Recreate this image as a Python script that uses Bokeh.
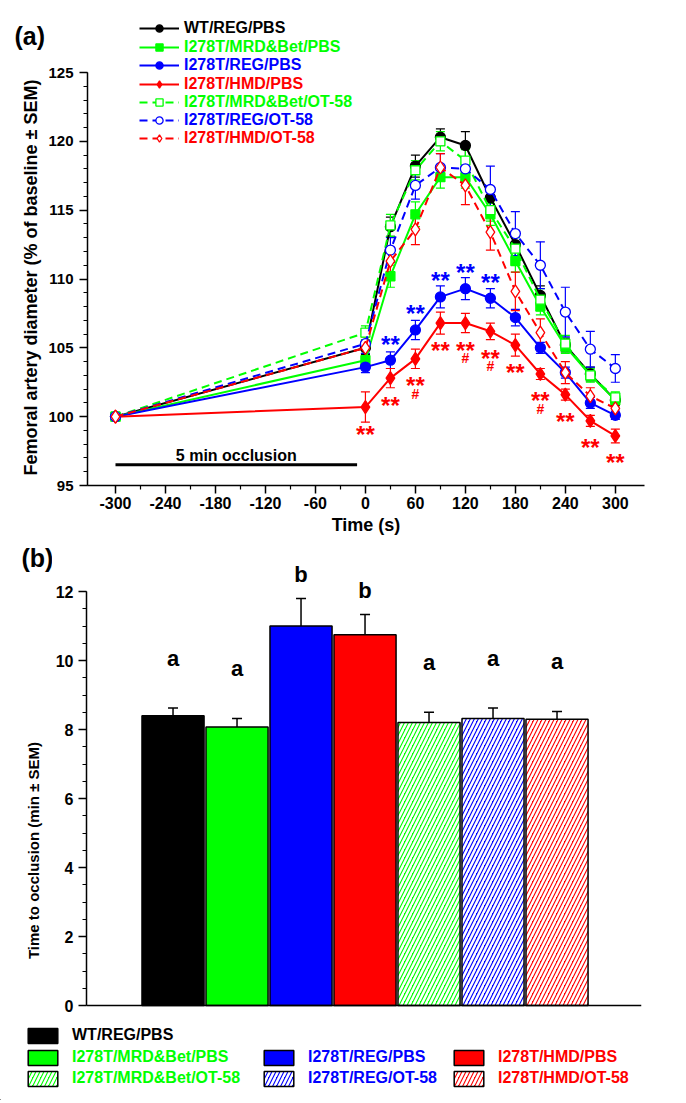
from bokeh.plotting import figure
from bokeh.models import ColumnDataSource, Whisker, TeeHead, Legend, LegendItem, Label, FixedTicker, Span
from bokeh.layouts import column, row
from bokeh.embed import file_html
from bokeh.resources import INLINE
from bokeh.core.properties import value

FONT = "Liberation Sans"

# ---------------- data: panel (a) ----------------
times = [-300, 0, 30, 60, 90, 120, 150, 180, 210, 240, 270, 300]

wt_reg_pbs = [100, 105.0, 113.8, 118.2, 120.3, 119.7, 115.9, 112.5, 108.8, 105.2, 103.1, 101.2]
mrd_pbs = [100, 104.1, 110.2, 114.7, 117.4, 117.4, 114.7, 111.3, 108.0, 105.1, 103.0, 101.2]
reg_pbs = [100, 103.6, 104.1, 106.3, 108.7, 109.3, 108.6, 107.2, 105.0, 103.2, 101.0, 100.1]
hmd_pbs = [100, 100.7, 102.8, 104.2, 106.8, 106.8, 106.2, 105.2, 103.1, 101.6, 99.7, 98.6]
mrd_ot58 = [100, 106.1, 113.9, 117.9, 120.0, 118.6, 115.0, 112.2, 108.5, 105.3, 103.0, 101.4]
reg_ot58 = [100, 105.3, 112.1, 116.8, 118.1, 118.0, 116.5, 113.3, 111.0, 107.6, 104.9, 103.5]
hmd_ot58 = [100, 105.0, 111.3, 113.6, 118.1, 116.8, 113.4, 109.1, 106.1, 103.2, 101.5, 100.6]

wt_reg_pbs_sem = [0, 0.5, 0.7, 0.8, 0.6, 1.0, 0.8, 0.8, 0.7, 0.5, 0.5, 0.4]
mrd_pbs_sem = [0, 0.5, 0.8, 0.9, 0.8, 0.8, 0.8, 0.8, 0.6, 0.5, 0.4, 0.3]
reg_pbs_sem = [0, 0.4, 0.6, 0.7, 0.8, 0.8, 0.7, 0.6, 0.4, 0.4, 0.4, 0.3]
hmd_pbs_sem = [0, 1.1, 0.7, 0.7, 0.8, 0.7, 0.6, 0.8, 0.4, 0.4, 0.4, 0.5]
mrd_ot58_sem = [0, 0.5, 0.8, 0.7, 0.7, 0.8, 0.8, 0.8, 0.8, 0.6, 0.5, 0.4]
reg_ot58_sem = [0, 0.7, 0.9, 1.0, 1.0, 0.8, 1.7, 1.6, 1.7, 1.8, 1.3, 1.0]
hmd_ot58_sem = [0, 0.8, 1.0, 1.1, 1.0, 1.4, 1.3, 1.4, 1.0, 0.8, 0.6, 0.5]

reg_pbs_sig = ["", "", "**", "**", "**", "**", "**", "", "", "", "", ""]
hmd_pbs_sig = ["", "**", "**", "**", "**", "**", "**", "**", "**", "**", "**", "**"]
hmd_pbs_hash = ["", "", "", "#", "", "#", "#", "", "#", "", "", ""]

occlusion = [-300, -10]
occlusion_text = "5 min occlusion"

x_ticks = [-300, -240, -180, -120, -60, 0, 60, 120, 180, 240, 300]
y_ticks_a = [95, 100, 105, 110, 115, 120, 125]

# ---------------- data: panel (b) ----------------
groups = ["WT/REG/PBS", "I278T/MRD&Bet/PBS", "I278T/REG/PBS", "I278T/HMD/PBS",
          "I278T/MRD&Bet/OT-58", "I278T/REG/OT-58", "I278T/HMD/OT-58"]
occl_mean = [8.4, 8.07, 11.0, 10.75, 8.2, 8.32, 8.3]
occl_sem = [0.22, 0.25, 0.8, 0.58, 0.3, 0.3, 0.22]
occl_letters = ["a", "a", "b", "b", "a", "a", "a"]
y_ticks_b = [0, 2, 4, 6, 8, 10, 12]

BLACK, GREEN, BLUE, RED = "#000000", "#00FF00", "#0000FF", "#FF0000"
group_colors = [BLACK, GREEN, BLUE, RED, GREEN, BLUE, RED]
group_hatched = [False, False, False, False, True, True, True]


def style_axis(ax, tick_size, label_size="16px"):
    ax.axis_line_width = 1.5
    ax.axis_line_color = "black"
    ax.major_tick_line_width = 1.5
    ax.minor_tick_line_width = 1.2
    ax.major_tick_in = 0
    ax.major_tick_out = 8
    ax.minor_tick_in = 0
    ax.minor_tick_out = 4
    ax.major_label_text_font = FONT
    ax.major_label_text_font_style = "bold"
    ax.major_label_text_font_size = tick_size
    ax.major_label_text_color = "black"
    ax.axis_label_text_font = FONT
    ax.axis_label_text_font_style = "bold"
    ax.axis_label_text_font_size = label_size
    ax.axis_label_text_color = "black"


def blank_fig(w, h):
    f = figure(frame_width=w, frame_height=h, x_range=(100, 101), y_range=(100, 101),
               x_axis_location=None, y_axis_location=None, output_backend="svg",
               toolbar_location=None, min_border_left=0, min_border_right=0,
               min_border_top=0, min_border_bottom=0)
    f.outline_line_color = None
    f.grid.visible = False
    return f


# ================= panel (a) =================
A_SCALE = 413 / 30.0          # px per % unit
p1 = figure(frame_width=557, frame_height=485, x_range=(-333.6, 335),
            y_range=(95, 95 + 485 / A_SCALE),
            output_backend="svg", toolbar_location=None,
            min_border_left=40, min_border_right=20, min_border_top=0, min_border_bottom=60)
p1.outline_line_color = None
p1.xgrid.visible = False
p1.ygrid.visible = False
p1.xaxis.ticker = FixedTicker(ticks=x_ticks, minor_ticks=[t + 30 for t in x_ticks[:-1]])
p1.xaxis.major_label_overrides = {t: str(t) for t in x_ticks}
p1.yaxis.ticker = FixedTicker(ticks=y_ticks_a, minor_ticks=list(range(95, 126)))
p1.yaxis.bounds = (95, 125)
p1.xaxis.axis_label = "Time (s)"
style_axis(p1.xaxis[0], "16px", "18px")
style_axis(p1.yaxis[0], "15px")
p1.xaxis.major_label_standoff = 3
p1.xaxis.axis_label_standoff = 3
p1.yaxis.major_label_standoff = 6

series = [
    ("WT/REG/PBS", wt_reg_pbs, wt_reg_pbs_sem, BLACK, "circle", False, True),
    ("I278T/MRD&Bet/PBS", mrd_pbs, mrd_pbs_sem, GREEN, "square", False, True),
    ("I278T/REG/PBS", reg_pbs, reg_pbs_sem, BLUE, "circle", False, True),
    ("I278T/HMD/PBS", hmd_pbs, hmd_pbs_sem, RED, "diamond", False, True),
    ("I278T/MRD&Bet/OT-58", mrd_ot58, mrd_ot58_sem, GREEN, "square", True, False),
    ("I278T/REG/OT-58", reg_ot58, reg_ot58_sem, BLUE, "circle", True, False),
    ("I278T/HMD/OT-58", hmd_ot58, hmd_ot58_sem, RED, "diamond", True, False),
]
marker_size = {"circle": 10, "square": 9, "diamond": 13}

legend_rows_y = [28, 46.5, 65, 83.5, 102, 120, 138]
for k, (lab, vals, sems, col, mk, dashed, filled) in enumerate(series):
    src = ColumnDataSource(dict(t=times, v=vals))
    lr = p1.line("t", "v", source=src, line_color=col, line_width=2,
                 line_dash=("8 5" if dashed else "solid"))
    et = [t for t, s in zip(times, sems) if s > 0]
    ev = [v for v, s in zip(vals, sems) if s > 0]
    es = [s for s in sems if s > 0]
    esrc = ColumnDataSource(dict(t=et, up=[v + s for v, s in zip(ev, es)], lo=[v - s for v, s in zip(ev, es)]))
    p1.add_layout(Whisker(base="t", upper="up", lower="lo", source=esrc, line_color=col, line_width=1.2,
                          upper_head=TeeHead(size=9, line_color=col, line_width=1.2),
                          lower_head=TeeHead(size=9, line_color=col, line_width=1.2)))
    sr = p1.scatter("t", "v", source=src, marker=mk, size=marker_size[mk],
                    fill_color=(col if filled else "white"), line_color=col, line_width=1.3)
    p1.add_layout(Legend(items=[LegendItem(label=lab, renderers=[lr, sr])],
                         location=(52, 485 - (legend_rows_y[k] + 9)),
                         glyph_width=40, glyph_height=18, label_height=18, label_standoff=5,
                         padding=0, margin=0, spacing=0, border_line_color=None,
                         background_fill_alpha=0, label_text_color=col, label_text_font=FONT,
                         label_text_font_style="bold", label_text_font_size="16px"))


def sig_source(vals, marks):
    return ColumnDataSource(dict(t=[t for t, s in zip(times, marks) if s],
                                 v=[v for v, s in zip(vals, marks) if s],
                                 s=[s for s in marks if s]))


p1.text("t", "v", text="s", source=sig_source(reg_pbs, reg_pbs_sig), y_offset=-16, text_align="center",
        text_baseline="middle", text_color=BLUE, text_font=value(FONT), text_font_style="bold",
        text_font_size="24px")
p1.text("t", "v", text="s", source=sig_source(hmd_pbs, hmd_pbs_sig), y_offset=27, text_align="center",
        text_baseline="middle", text_color=RED, text_font=value(FONT), text_font_style="bold",
        text_font_size="24px")
p1.text("t", "v", text="s", source=sig_source(hmd_pbs, hmd_pbs_hash), y_offset=35, text_align="center",
        text_baseline="middle", text_color=RED, text_font=value(FONT), text_font_style="bold",
        text_font_size="14px")

# occlusion bar
p1.segment(x0=[occlusion[0]], x1=[occlusion[1]], y0=[96.5], y1=[96.5], line_color="black", line_width=3)
p1.text(x=[(occlusion[0] + occlusion[1]) / 2], y=[96.5], text=[occlusion_text], y_offset=-1,
        text_align="center", text_baseline="bottom", text_color="black",
        text_font=value(FONT), text_font_style="bold", text_font_size="16px")

# left strip for panel (a): panel letter + y-axis title
yl1 = blank_fig(45, 545)
yl1.add_layout(Label(x=14, y=545 - 35, x_units="screen", y_units="screen", text="(a)",
                     text_font=FONT, text_font_style="bold", text_font_size="25px",
                     text_baseline="middle", text_align="left", text_color="black"))
yl1.add_layout(Label(x=30, y=545 - 277, x_units="screen", y_units="screen", angle=90, angle_units="deg",
                     text="Femoral artery diameter (% of baseline ± SEM)",
                     text_font=FONT, text_font_style="bold", text_font_size="18px",
                     text_baseline="middle", text_align="center", text_color="black"))

# ================= panel (b) =================
B_SCALE = 414 / 12.0
B_TOP = 591 - 545        # px above the 12 mark
B_BOT = 1011 - 1005      # px below the 0 mark
p2 = figure(frame_width=555, frame_height=466, x_range=(-1.352, 7.32),
            y_range=(-B_BOT / B_SCALE, 12 + B_TOP / B_SCALE),
            output_backend="svg", toolbar_location=None, x_axis_location=None,
            min_border_left=33, min_border_right=22, min_border_top=0, min_border_bottom=6)
p2.outline_line_color = None
p2.xgrid.visible = False
p2.ygrid.visible = False
p2.yaxis.ticker = FixedTicker(ticks=y_ticks_b, minor_ticks=[i * 0.5 for i in range(25)])
p2.yaxis.bounds = (0, 12)
style_axis(p2.yaxis[0], "16px")
p2.yaxis.major_label_standoff = 5
p2.add_layout(Span(location=0, dimension="width", line_color="black", line_width=1.5))

leg_fig = blank_fig(662, 83)
leg_cols_x = [24, 260, 450]
leg_rows_y = [1035, 1057, 1078]
leg_cell = [(0, 0), (1, 0), (1, 1), (1, 2), (2, 0), (2, 1), (2, 2)]
for i, g in enumerate(groups):
    kw = dict(fill_color=group_colors[i], line_color="black", line_width=1.5)
    if group_hatched[i]:
        kw.update(hatch_pattern="/", hatch_color="white", hatch_scale=8, hatch_weight=2.5)
    p2.vbar(x=[i], top=[occl_mean[i]], width=0.97, bottom=0, **kw)
    # same glyph in the legend strip (outside its visible range) to draw the swatch
    r = leg_fig.vbar(x=[i], top=[occl_mean[i]], width=0.97, bottom=0, **kw)
    rw, cl = leg_cell[i]
    leg_fig.add_layout(Legend(items=[LegendItem(label=g, renderers=[r])],
                              location=(leg_cols_x[cl], 1100 - (leg_rows_y[rw] + 9.5)),
                              glyph_width=37, glyph_height=19, label_height=19, label_standoff=11,
                              padding=0, margin=0, spacing=0, border_line_color=None,
                              background_fill_alpha=0, label_text_color=group_colors[i],
                              label_text_font=FONT, label_text_font_style="bold",
                              label_text_font_size="16px"))

letter_offset = {"a": -50, "b": -24}
esrc2 = ColumnDataSource(dict(x=list(range(len(groups))), lo=occl_mean,
                              up=[m + s for m, s in zip(occl_mean, occl_sem)], lab=occl_letters,
                              off=[letter_offset[l] for l in occl_letters]))
p2.add_layout(Whisker(base="x", upper="up", lower="lo", source=esrc2, line_color="black", line_width=1.5,
                      upper_head=TeeHead(size=10, line_color="black", line_width=1.5), lower_head=None))
p2.text("x", "up", text="lab", source=esrc2, y_offset="off", text_align="center", text_baseline="middle",
        text_color="black", text_font=value(FONT), text_font_style="bold", text_font_size="22px")

yl2 = blank_fig(52, 472)
yl2.add_layout(Label(x=21, y=472 - 12, x_units="screen", y_units="screen", text="(b)",
                     text_font=FONT, text_font_style="bold", text_font_size="25px",
                     text_baseline="middle", text_align="left", text_color="black"))
yl2.add_layout(Label(x=33, y=1017 - 850, x_units="screen", y_units="screen", angle=90, angle_units="deg",
                     text="Time to occlusion (min ± SEM)",
                     text_font=FONT, text_font_style="bold", text_font_size="15px",
                     text_baseline="middle", text_align="center", text_color="black"))

layout = column(row(yl1, p1, spacing=0), row(yl2, p2, spacing=0), leg_fig, spacing=0)
open("out.html", "w").write(file_html(layout, INLINE))
